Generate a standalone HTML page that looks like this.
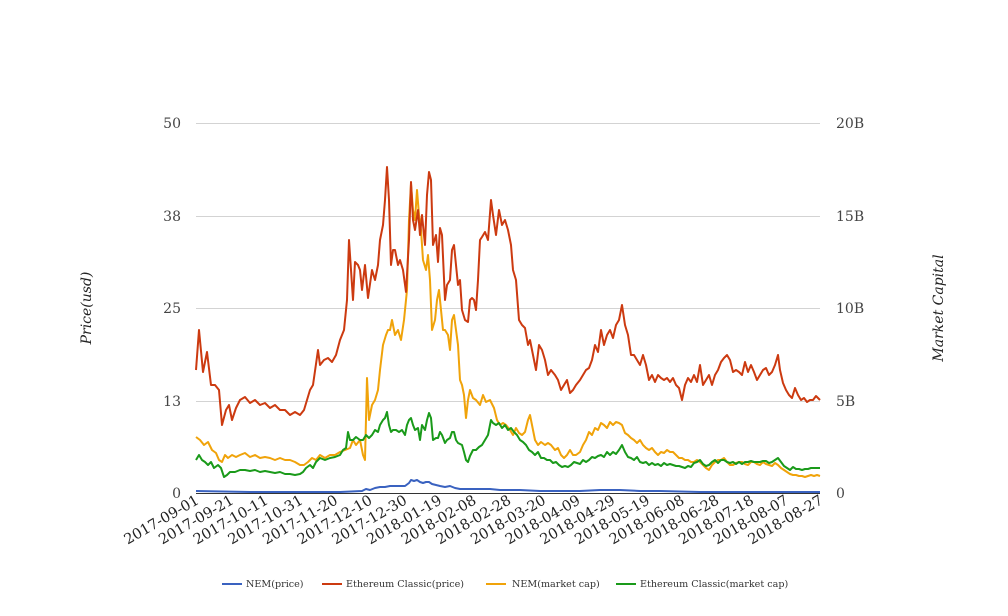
<!DOCTYPE html>
<html><head><meta charset="utf-8"><style>
body{margin:0;background:#fff;}
svg{display:block;font-family:"DejaVu Serif","Liberation Serif",serif;}
</style></head><body>
<svg width="1008" height="616" viewBox="0 0 1008 616">
<g stroke="#d3d3d3" stroke-width="1">
<line x1="196" y1="123.5" x2="820" y2="123.5"/>
<line x1="196" y1="216.5" x2="820" y2="216.5"/>
<line x1="196" y1="308.5" x2="820" y2="308.5"/>
<line x1="196" y1="401.5" x2="820" y2="401.5"/>
</g>
<g font-size="14" fill="#444" text-anchor="end">
<text x="181" y="128">50</text><text x="181" y="221">38</text><text x="181" y="313">25</text><text x="181" y="406">13</text><text x="181" y="498">0</text>
</g>
<g font-size="14" fill="#444" text-anchor="start">
<text x="836" y="128">20B</text><text x="836" y="221">15B</text><text x="836" y="313">10B</text><text x="836" y="406">5B</text><text x="836" y="498">0</text>
</g>
<text transform="translate(91,308) rotate(-90)" font-size="14" font-style="italic" fill="#222" text-anchor="middle">Price(usd)</text>
<text transform="translate(943,308) rotate(-90)" font-size="14" font-style="italic" fill="#222" text-anchor="middle">Market Capital</text>
<g font-size="14.5" fill="#222" text-anchor="end">
<text transform="translate(200,503) rotate(-30)">2017-09-01</text>
<text transform="translate(234.7,503) rotate(-30)">2017-09-21</text>
<text transform="translate(269.3,503) rotate(-30)">2017-10-11</text>
<text transform="translate(304,503) rotate(-30)">2017-10-31</text>
<text transform="translate(338.7,503) rotate(-30)">2017-11-20</text>
<text transform="translate(373.3,503) rotate(-30)">2017-12-10</text>
<text transform="translate(408,503) rotate(-30)">2017-12-30</text>
<text transform="translate(442.7,503) rotate(-30)">2018-01-19</text>
<text transform="translate(477.3,503) rotate(-30)">2018-02-08</text>
<text transform="translate(512,503) rotate(-30)">2018-02-28</text>
<text transform="translate(546.7,503) rotate(-30)">2018-03-20</text>
<text transform="translate(581.3,503) rotate(-30)">2018-04-09</text>
<text transform="translate(616,503) rotate(-30)">2018-04-29</text>
<text transform="translate(650.7,503) rotate(-30)">2018-05-19</text>
<text transform="translate(685.3,503) rotate(-30)">2018-06-08</text>
<text transform="translate(720,503) rotate(-30)">2018-06-28</text>
<text transform="translate(754.7,503) rotate(-30)">2018-07-18</text>
<text transform="translate(789.3,503) rotate(-30)">2018-08-07</text>
<text transform="translate(824,503) rotate(-30)">2018-08-27</text>
</g>
<g fill="none" stroke-width="2" stroke-linejoin="round">
<polyline stroke="#f0a30a" points="196,437 200,440 204,445 208,442 212,450 216,453 219,460 222,462 225,455 228,458 232,455 236,457 240,455 245,453 250,457 255,455 260,458 265,457 270,458 275,460 280,458 285,460 290,460 295,462 300,465 304,465 308,462 312,458 316,460 320,455 325,458 330,455 335,455 340,452 345,450 350,448 353,440 356,445 360,440 363,455 365,460 367,378 369,420 372,405 375,400 378,390 380,370 383,345 386,335 388,330 390,330 392,320 395,335 398,330 401,340 404,320 407,290 409,220 411,184 413,210 415,220 417,190 419,215 421,230 423,260 426,270 428,255 430,280 432,330 435,320 437,300 439,290 441,310 443,330 445,330 448,335 450,350 452,320 454,315 456,330 458,345 460,380 462,385 464,395 466,418 468,400 470,390 473,398 476,400 480,405 483,395 486,402 490,400 494,408 497,420 500,425 503,423 506,425 510,430 513,435 516,428 519,433 522,435 525,432 528,420 530,415 532,425 535,440 538,445 541,442 545,445 548,443 551,445 555,450 558,448 561,455 564,458 567,455 570,450 573,455 576,455 580,452 583,445 586,440 589,432 592,435 595,428 598,430 601,423 604,425 607,428 610,422 613,425 616,422 619,423 622,425 625,433 628,435 631,438 634,440 637,443 640,440 643,445 646,448 649,450 652,448 655,452 658,455 661,452 664,453 667,450 670,452 673,452 676,455 679,458 682,458 685,460 688,460 691,462 694,462 697,460 700,462 703,465 706,468 709,470 712,465 715,462 718,460 721,460 724,458 727,462 730,465 733,465 736,463 739,462 742,462 745,464 748,465 751,462 754,462 757,464 760,465 763,462 766,464 769,465 772,466 775,463 778,465 781,468 784,470 787,472 790,474 793,475 796,475 799,476 802,476 805,477 808,476 811,475 814,476 817,475 820,476"/>
<polyline stroke="#1a9a1a" points="196,460 199,455 202,460 205,462 208,465 211,462 214,468 218,465 221,468 224,477 227,475 230,472 235,472 240,470 245,470 250,471 255,470 260,472 265,471 270,472 275,473 280,472 285,474 290,474 295,475 300,474 303,472 306,468 310,465 313,468 316,462 320,458 325,460 330,458 335,457 340,455 343,450 346,448 348,432 350,440 353,440 356,437 360,440 363,440 366,435 369,438 372,435 375,430 378,432 380,425 383,420 385,418 387,412 389,425 391,432 393,430 396,430 399,432 402,430 405,435 407,425 409,420 411,418 413,425 415,430 418,428 420,440 422,425 425,430 427,420 429,413 431,418 433,440 436,438 438,438 440,432 442,435 445,443 447,440 450,438 452,432 454,432 456,440 458,443 460,444 462,445 464,452 466,460 468,462 470,456 473,450 476,450 479,447 482,445 485,440 488,435 491,420 493,423 496,425 499,423 502,428 505,425 508,430 511,428 514,432 517,435 520,440 523,442 526,445 529,450 532,452 535,455 538,452 541,458 544,458 547,460 550,460 553,463 556,462 559,465 562,467 565,466 568,467 571,465 574,462 577,463 580,464 583,460 586,462 589,460 592,457 595,458 598,456 601,455 604,457 607,452 610,455 613,452 616,454 619,450 622,445 625,452 628,457 631,458 634,460 637,457 640,462 643,463 646,462 649,465 652,463 655,465 658,464 661,466 664,463 667,465 670,464 673,465 676,466 679,466 682,467 685,468 688,466 691,467 694,463 697,462 700,460 703,464 706,466 709,465 712,462 715,460 718,463 721,460 724,460 727,462 730,463 733,462 736,464 739,462 742,464 745,462 748,462 751,461 754,462 757,462 760,462 763,461 766,461 769,463 772,462 775,460 778,458 781,462 784,466 787,468 790,470 793,467 796,469 799,469 802,470 805,469 808,469 811,468 814,468 817,468 820,468"/>
<polyline stroke="#cc3a10" points="196,370 199,330 203,372 207,352 211,385 215,385 219,390 222,425 226,410 229,405 232,420 236,408 240,400 245,397 250,403 255,400 260,405 265,403 270,408 275,405 280,410 285,410 290,415 295,412 300,415 304,410 307,400 310,390 313,385 318,350 320,365 324,360 328,358 332,362 336,355 340,340 344,330 347,300 349,240 351,270 353,300 355,262 358,265 360,270 362,290 365,265 368,298 372,270 375,280 378,265 380,240 383,225 385,200 387,167 389,200 391,265 393,250 395,250 398,265 400,260 403,270 406,292 409,240 411,182 413,220 415,230 418,210 420,235 422,215 425,245 427,195 429,172 431,180 433,245 436,235 438,262 440,228 442,235 445,300 447,285 450,280 452,250 454,245 456,265 458,285 460,280 462,310 465,320 468,322 470,300 472,298 474,300 476,310 478,280 480,240 482,237 485,232 488,240 491,200 493,215 496,235 499,210 502,225 505,220 508,230 511,245 513,270 516,280 519,320 522,325 525,328 528,345 530,340 533,355 536,370 539,345 542,350 545,360 548,375 551,370 555,375 558,380 561,390 564,385 567,380 570,393 573,390 576,385 580,380 583,375 586,370 589,368 592,360 595,345 598,352 601,330 604,345 607,335 610,330 613,338 616,325 619,320 622,305 625,325 628,335 631,355 634,355 637,360 640,365 643,355 646,365 649,380 652,375 655,382 658,375 661,378 664,380 667,378 670,382 673,378 676,385 679,388 682,400 685,385 688,378 691,382 694,375 697,382 700,365 703,385 706,380 709,375 712,385 715,375 718,370 721,362 724,358 727,355 730,360 733,372 736,370 739,372 742,375 745,362 748,372 751,365 754,372 757,380 760,375 763,370 766,368 769,375 772,372 775,365 778,355 780,370 783,383 786,390 789,395 792,398 795,388 798,395 801,400 804,398 807,402 810,400 813,400 816,396 820,400"/>
<polyline stroke="#3a62c0" points="196,491 250,492 300,492 340,492 362,491 366,489 370,490 375,488 380,487 385,487 390,486 395,486 400,486 405,486 409,483 411,480 414,481 417,480 420,482 423,483 426,482 429,482 432,484 436,485 440,486 445,487 450,486 455,488 460,489 470,489 480,489 490,489 500,490 520,490 540,491 560,491 580,491 600,490 620,490 640,491 660,491 700,492 760,492 820,492"/>
</g>
<line x1="196" y1="493.5" x2="820" y2="493.5" stroke="#333" stroke-width="1"/>
<g font-size="9.6" fill="#333">
<line x1="222" y1="584" x2="242" y2="584" stroke="#3a62c0" stroke-width="2"/><text x="246" y="587">NEM(price)</text>
<line x1="322" y1="584" x2="342" y2="584" stroke="#cc3a10" stroke-width="2"/><text x="346" y="587">Ethereum Classic(price)</text>
<line x1="486" y1="584" x2="506" y2="584" stroke="#f0a30a" stroke-width="2"/><text x="512" y="587">NEM(market cap)</text>
<line x1="616" y1="584" x2="636" y2="584" stroke="#1a9a1a" stroke-width="2"/><text x="640" y="587">Ethereum Classic(market cap)</text>
</g>
</svg>
</body></html>
